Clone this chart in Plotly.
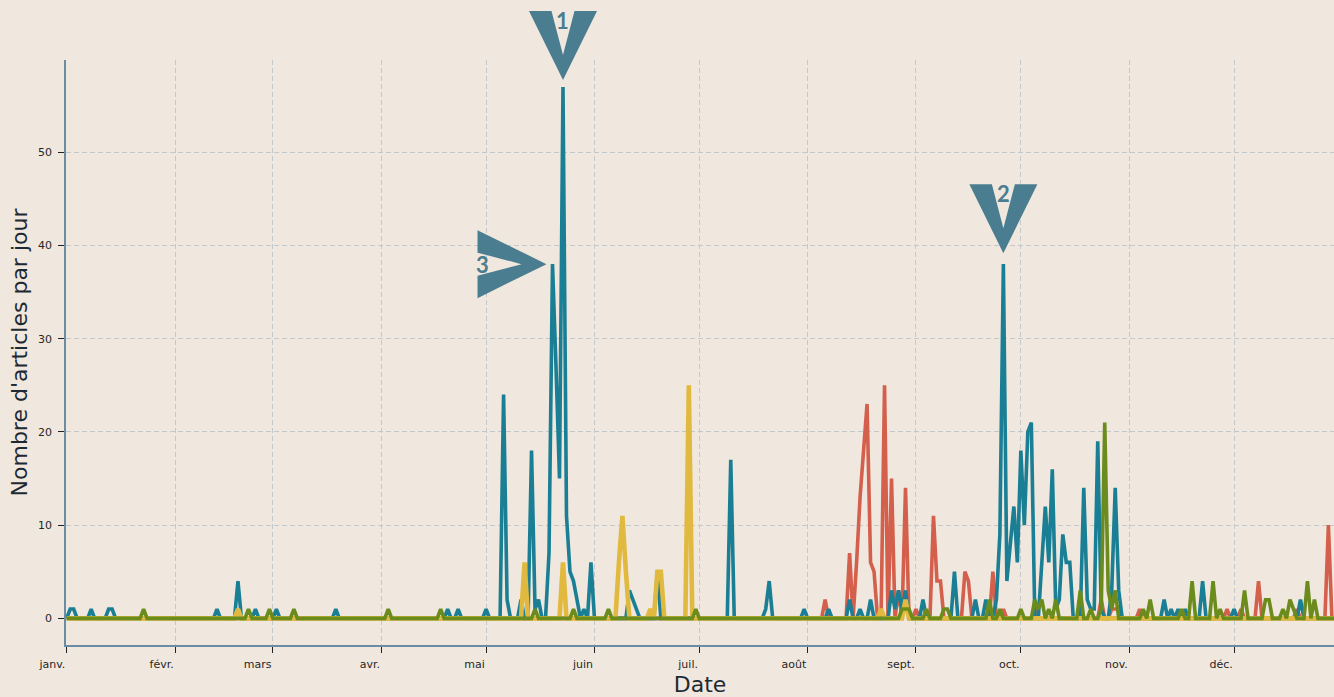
import numpy as np
import pandas as pd
import plotly.graph_objects as go

# ---- data (day index from 2019-01-01, value = articles per day) ----
blue_days = [1, 2, 7, 12, 13, 43, 49, 54, 60, 77, 109, 112, 120,
             125, 126, 130, 133, 134, 135, 138, 139, 140, 141, 142, 143, 144, 145, 146, 148, 150,
             161, 162, 163, 169, 190, 200, 201, 211, 218, 224, 227, 230, 236, 237, 238, 239, 240,
             245, 254, 260, 263, 266, 267, 268, 269, 270, 271, 272, 273, 274, 275, 276, 279, 280,
             281, 282, 283, 284, 285, 286, 287, 291, 292, 293, 294, 295, 296, 299, 300, 301,
             314, 316, 318, 320, 325, 334, 353]
blue_vals = [1, 1, 1, 1, 1, 1, 4, 1, 1, 1, 1, 1, 1,
             24, 2, 2, 18, 1, 2, 7, 38, 27, 15, 57, 11, 5, 4, 2, 1, 6,
             3, 2, 1, 5, 17, 1, 4, 1, 1, 2, 1, 2, 3, 1, 3, 1, 3,
             2, 5, 2, 2, 2, 9, 38, 4, 8, 12, 6, 18, 10, 20, 21, 6, 12,
             6, 16, 1, 2, 9, 6, 6, 14, 2, 1, 1, 19, 1, 3, 14, 3,
             2, 1, 1, 1, 4, 1, 2]

red_days = [217, 224, 226, 227, 228, 229, 230, 231, 234, 236, 238, 240, 243, 248, 249, 250,
            257, 258, 265, 268, 277, 296, 299, 300, 301, 307, 332, 336, 341, 352, 361]
red_vals = [2, 7, 6, 13, 18, 23, 6, 5, 25, 15, 3, 14, 1, 11, 4, 4,
            5, 4, 5, 1, 1, 2, 1, 1, 1, 1, 1, 1, 4, 1, 10]

yellow_days = [49, 131, 142, 158, 159, 160, 167, 169, 170, 178, 233, 240]
yellow_vals = [1, 6, 6, 6, 11, 5, 1, 5, 5, 25, 1, 2]

green_days = [22, 52, 58, 65, 92, 107, 134, 145, 155, 180, 239, 240, 241, 246, 251, 252,
              264, 267, 273, 277, 278, 279, 281, 283, 290, 293, 296, 297, 298, 299, 300,
              308, 310, 319, 322, 328, 330, 337, 343, 344, 348, 350, 351, 355, 357]
green_vals = [1, 1, 1, 1, 1, 1, 1, 1, 1, 1, 1, 1, 1, 1, 1, 1,
              2, 1, 1, 2, 1, 2, 1, 2, 3, 1, 1, 21, 3, 1, 3,
              1, 2, 1, 4, 4, 1, 3, 2, 2, 1, 2, 1, 4, 2]

month_labels = ["janv.", "févr.", "mars", "avr.", "mai", "juin", "juil.", "août",
                "sept.", "oct.", "nov.", "déc."]
y_ticks = [0, 10, 20, 30, 40, 50]

# peaks marked with chevrons: (series day, value, number, orientation, gap in px)
marks = [(142, 57, "1", "down", 7), (268, 38, "2", "down", 11), (139, 38, "3", "right", 6)]

# ---- build ----
dates = pd.date_range("2019-01-01", "2019-12-31", freq="D")
X_RANGE = [pd.Timestamp("2018-12-31 19:12"), pd.Timestamp("2019-12-29 14:24")]
Y_RANGE = [-2.86, 59.9]


def full(days, vals):
    arr = np.zeros(len(dates))
    arr[np.array(days)] = vals
    return arr


def x_frac(ts):
    return (ts - X_RANGE[0]) / (X_RANGE[1] - X_RANGE[0])


def y_frac(v):
    return (v - Y_RANGE[0]) / (Y_RANGE[1] - Y_RANGE[0])


BG = "#f0e8de"
C_BLUE = "#1a7f94"
C_RED = "#d35f4c"
C_YEL = "#e1b93f"
C_GRN = "#6b8c1d"
C_MARK = "#4a7d8f"

fig = go.Figure()
for name, d, v, c, w in [("red", red_days, red_vals, C_RED, 3.6),
                         ("blue", blue_days, blue_vals, C_BLUE, 3.6),
                         ("yellow", yellow_days, yellow_vals, C_YEL, 4.6),
                         ("green", green_days, green_vals, C_GRN, 3.6)]:
    fig.add_trace(go.Scatter(x=dates, y=full(d, v), mode="lines", name=name,
                             line=dict(color=c, width=w), hoverinfo="skip",
                             showlegend=False))


def v_down(g):
    return (f"M -34 {g + 69} L -11.5 {g + 69} L 0 {g + 25} L 11.5 {g + 69} "
            f"L 34 {g + 69} L 0 {g} Z")


def v_right(g):
    return (f"M {-g - 69} 34 L {-g - 69} 11.5 L {-g - 25} 0 L {-g - 69} -11.5 "
            f"L {-g - 69} -34 L {-g} 0 Z")


for day, val, num, orient, gap in marks:
    xd = dates[day]
    if orient == "down":
        path = v_down(gap)
        fig.add_annotation(x=xd, y=val, xref="x", yref="y", text=num, showarrow=False,
                           yshift=gap + 60,
                           font=dict(family="Lato", size=22, color=C_MARK, weight="bold"))
    else:
        path = v_right(gap)
        fig.add_annotation(x=xd, y=val, xref="x", yref="y", text=num, showarrow=False,
                           xshift=-gap - 64, yshift=0,
                           font=dict(family="Lato", size=22, color=C_MARK, weight="bold"))
    fig.add_shape(type="path", xref="paper", yref="paper", xsizemode="pixel", ysizemode="pixel",
                  xanchor=x_frac(xd), yanchor=y_frac(val), path=path, fillcolor=C_MARK,
                  line=dict(width=0), layer="above")

month_starts = pd.date_range("2019-01-01", "2019-12-01", freq="MS")
grid = dict(showgrid=True, gridcolor="#c3c9ca", gridwidth=1, griddash="5px,3px")
fig.update_layout(
    width=1334, height=697,
    paper_bgcolor=BG, plot_bgcolor=BG,
    margin=dict(l=66, r=0, t=60, b=52),
    font=dict(family="DejaVu Sans", color="#222222"),
    xaxis=dict(range=X_RANGE,
               tickvals=month_starts, ticktext=month_labels,
               ticks="outside", ticklen=6, tickwidth=1.2, tickcolor="#222222",
               ticklabelposition="outside left", ticklabelstandoff=8,
               tickfont=dict(size=11, color="#262626"),
               showline=True, linecolor="#6b8ca3", linewidth=1.5,
               zeroline=False,
               title=dict(text="Date", font=dict(size=22, color="#1e2a33"), standoff=10),
               **grid),
    yaxis=dict(range=Y_RANGE, tickvals=y_ticks,
               ticks="outside", ticklen=6, tickwidth=1.2, tickcolor="#222222",
               tickfont=dict(size=11, color="#262626"),
               ticklabelstandoff=4,
               showline=True, linecolor="#6b8ca3", linewidth=1.5,
               zeroline=False,
               title=dict(text="Nombre d'articles par jour", font=dict(size=22, color="#1e2a33"),
                          standoff=4),
               **grid),
)

fig.write_html("out.html", config={"displayModeBar": False},
               post_script="document.body.style.margin='0px';")
